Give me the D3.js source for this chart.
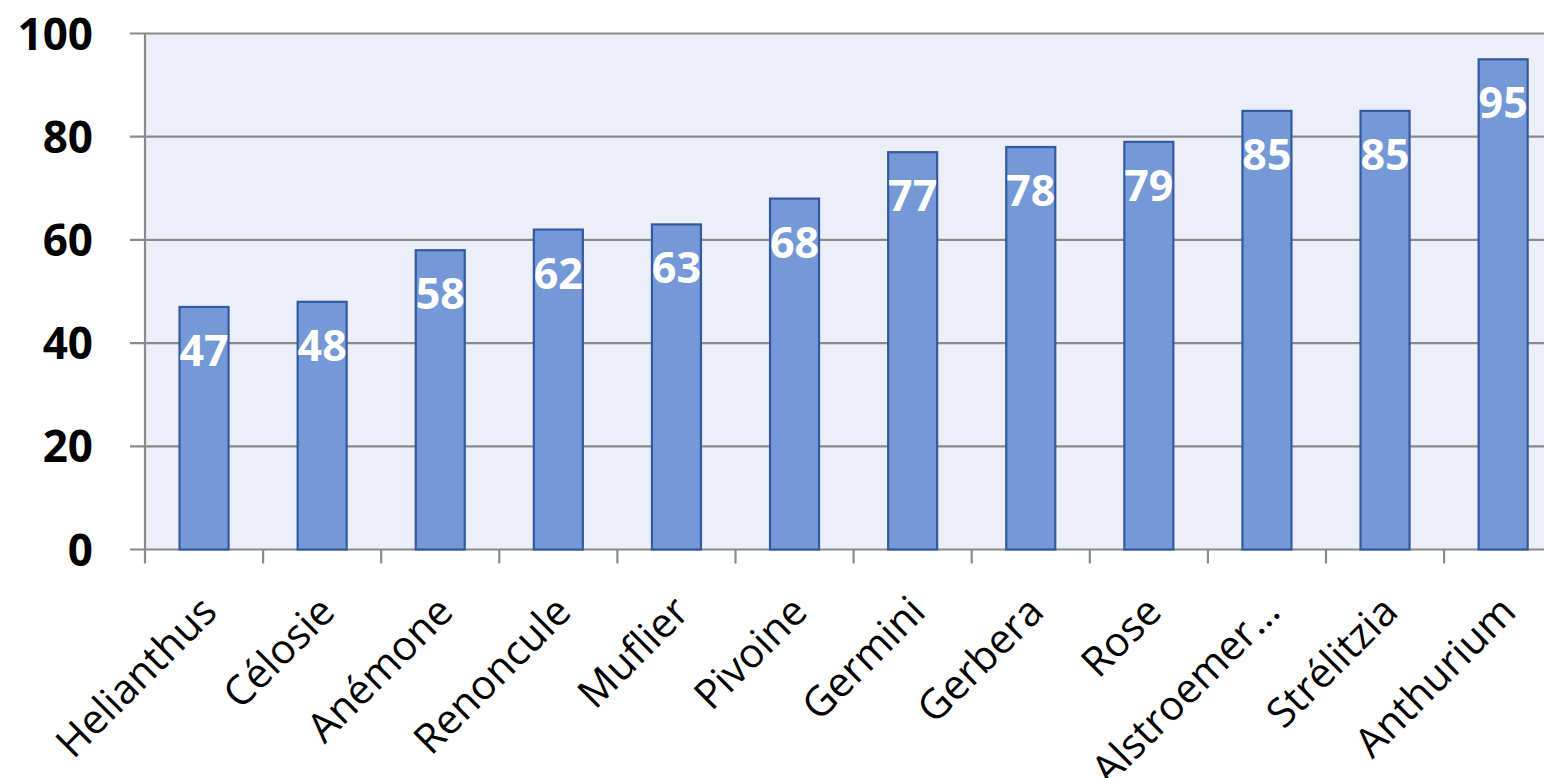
<!DOCTYPE html>
<html><head><meta charset="utf-8">
<script src="https://cdn.jsdelivr.net/npm/d3@7"></script>
<style>html,body{margin:0;padding:0;background:#fff;overflow:hidden}</style>
</head><body>
<svg id="c" width="1544" height="778"></svg>
<script>
const categories = ["Helianthus","Célosie","Anémone","Renoncule","Muflier","Pivoine","Germini","Gerbera","Rose","Alstroemer…","Strélitzia","Anthurium"];
const values = [47,48,58,62,63,68,77,78,79,85,85,95];
const yTicks = [0,20,40,60,80,100];

const svg = d3.select("#c");
const plotLeft = 145, plotTop = 33.5, plotBottom = 549.5, band = 118.1;
const x = d3.scaleBand().domain(categories).range([plotLeft, plotLeft + band*categories.length]).paddingInner(0.585).paddingOuter(0.2925);
const xb = d3.scaleBand().domain(categories).range([plotLeft, plotLeft + band*categories.length]);
const y = d3.scaleLinear().domain([0,100]).range([plotBottom, plotTop]);
const fontF = "'Open Sans', 'Noto Sans', sans-serif";

// plot background
svg.append("rect").attr("x", plotLeft).attr("y", plotTop).attr("width", 1544-plotLeft).attr("height", plotBottom-plotTop).attr("fill", "#eceef8");

// gridlines
svg.append("g").selectAll("line").data(yTicks).join("line")
  .attr("x1", plotLeft-15).attr("x2", 1544)
  .attr("y1", d=>y(d)).attr("y2", d=>y(d))
  .attr("stroke", "#8a8a8a").attr("stroke-width", 2.2);

// left axis line
svg.append("line").attr("x1", plotLeft).attr("x2", plotLeft).attr("y1", plotTop).attr("y2", plotBottom+14)
  .attr("stroke", "#8a8a8a").attr("stroke-width", 2.2);

// x ticks at band boundaries
svg.append("g").selectAll("line").data(categories.slice(1)).join("line")
  .attr("x1", d=>xb(d)).attr("x2", d=>xb(d)).attr("y1", plotBottom).attr("y2", plotBottom+14)
  .attr("stroke", "#8a8a8a").attr("stroke-width", 2.2);

// bars
svg.append("g").selectAll("rect").data(values).join("rect")
  .attr("x", (d,i)=>x(categories[i])).attr("width", x.bandwidth())
  .attr("y", d=>y(d)).attr("height", d=>plotBottom - y(d))
  .attr("fill", "#7499d6").attr("stroke", "#3359a3").attr("stroke-width", 2.2);

// value labels
svg.append("g").selectAll("text").data(values).join("text")
  .attr("x", (d,i)=>x(categories[i]) + x.bandwidth()/2)
  .attr("y", d=>y(d) + 59)
  .attr("text-anchor", "middle")
  .attr("font-family", fontF).attr("font-weight", 700).attr("font-size", 43)
  .attr("fill", "#ffffff")
  .text(d=>d);

// y tick labels
svg.append("g").selectAll("text").data(yTicks).join("text")
  .attr("x", 93).attr("y", d=>y(d) + 16)
  .attr("text-anchor", "end")
  .attr("font-family", fontF).attr("font-weight", 700).attr("font-size", 44)
  .attr("fill", "#000")
  .text(d=>d);

// x category labels
svg.append("g").selectAll("text").data(categories).join("text")
  .attr("transform", d=>`translate(${xb(d)+xb.bandwidth()/2+15},${614}) rotate(-45)`)
  .attr("text-anchor", "end")
  .attr("font-family", fontF).attr("font-size", 41)
  .attr("fill", "#000")
  .text(d=>d);
</script>
</body></html>
